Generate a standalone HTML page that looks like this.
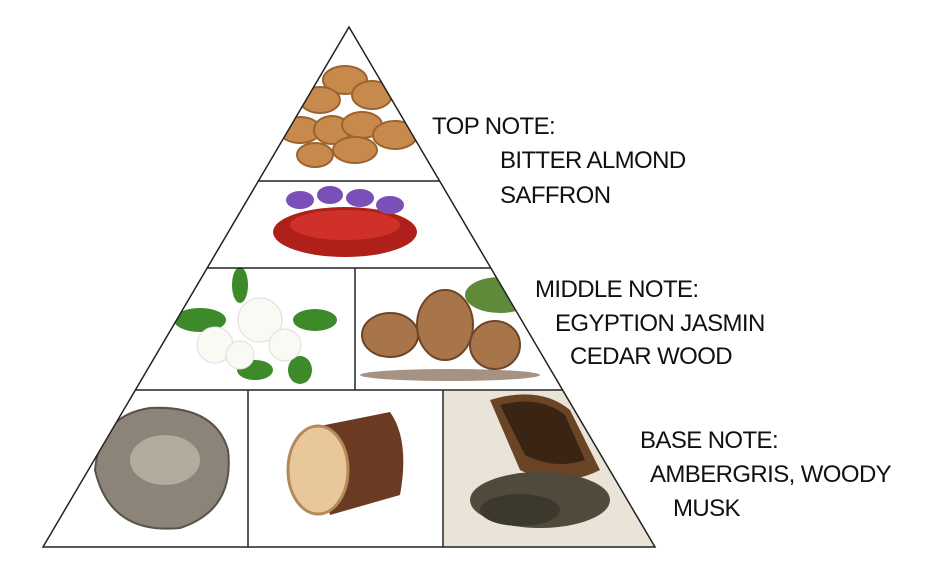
<!DOCTYPE html>
<html><head><meta charset="utf-8"><style>
body{margin:0;background:#fff;width:933px;height:575px;overflow:hidden;position:relative;font-family:"Liberation Sans",sans-serif}
.t{position:absolute;font-size:24px;color:#111;letter-spacing:-0.6px;white-space:nowrap;line-height:1}
</style></head><body>
<svg width="933" height="575" style="position:absolute;left:0;top:0">
<defs><clipPath id="c"><polygon points="349,27 43,547 655,547"/></clipPath></defs>
<g clip-path="url(#c)">
<!-- bottom right background -->
<rect x="444" y="391" width="220" height="156" fill="#e9e3d8"/>
<path d="M490 400 Q540 385 570 410 L600 470 Q560 490 520 470 Z" fill="#6b4426"/>
<path d="M500 405 Q540 395 565 415 L585 460 Q555 470 525 455 Z" fill="#3a2414"/>
<ellipse cx="540" cy="500" rx="70" ry="28" fill="#4f4a3c"/>
<ellipse cx="520" cy="510" rx="40" ry="16" fill="#3c382c"/>
<!-- almonds -->
<g fill="#c88a4c" stroke="#9a6330" stroke-width="2">
<ellipse cx="345" cy="80" rx="22" ry="14"/><ellipse cx="320" cy="100" rx="20" ry="13"/><ellipse cx="372" cy="95" rx="20" ry="14"/>
<ellipse cx="300" cy="130" rx="21" ry="13"/><ellipse cx="332" cy="130" rx="18" ry="14"/><ellipse cx="362" cy="125" rx="20" ry="13"/>
<ellipse cx="395" cy="135" rx="22" ry="14"/><ellipse cx="355" cy="150" rx="22" ry="13"/><ellipse cx="315" cy="155" rx="18" ry="12"/></g>
<!-- saffron -->
<ellipse cx="345" cy="232" rx="72" ry="25" fill="#b0201a"/>
<ellipse cx="345" cy="225" rx="55" ry="15" fill="#d0302a"/>
<g fill="#7a4fb8"><ellipse cx="300" cy="200" rx="14" ry="9"/><ellipse cx="330" cy="195" rx="13" ry="9"/><ellipse cx="360" cy="198" rx="14" ry="9"/><ellipse cx="390" cy="205" rx="14" ry="9"/></g>
<!-- jasmine -->
<g fill="#3d8a2a"><ellipse cx="200" cy="320" rx="26" ry="12"/><ellipse cx="315" cy="320" rx="22" ry="11"/><ellipse cx="240" cy="285" rx="8" ry="18"/><ellipse cx="255" cy="370" rx="18" ry="10"/><ellipse cx="300" cy="370" rx="12" ry="14"/></g>
<g fill="#fafaf5" stroke="#ddd"><circle cx="260" cy="320" r="22"/><circle cx="215" cy="345" r="18"/><circle cx="285" cy="345" r="16"/><circle cx="240" cy="355" r="14"/></g>
<!-- pine cones -->
<ellipse cx="500" cy="295" rx="35" ry="18" fill="#5f8a3a"/>
<g fill="#a8754a" stroke="#6e4526" stroke-width="2"><ellipse cx="390" cy="335" rx="28" ry="22"/><ellipse cx="445" cy="325" rx="28" ry="35"/><ellipse cx="495" cy="345" rx="25" ry="24"/></g>
<ellipse cx="450" cy="375" rx="90" ry="6" fill="#6b4a30" opacity=".6"/>
<!-- stone -->
<path d="M95 470 Q100 415 150 408 Q215 405 228 450 Q235 510 180 528 Q110 535 95 470Z" fill="#8c8478" stroke="#5a5348" stroke-width="2"/>
<ellipse cx="165" cy="460" rx="35" ry="25" fill="#b3ab9e"/>
<!-- wood -->
<path d="M310 428 L390 412 Q410 440 400 495 L330 515 Z" fill="#6b3a22"/>
<ellipse cx="318" cy="470" rx="30" ry="44" fill="#e8c89a" stroke="#b58a5a" stroke-width="3"/>
</g>
<g stroke="#222" stroke-width="1.5" fill="none">
<polygon points="349,27 43,547 655,547"/>
<line x1="258" y1="181" x2="440" y2="181"/>
<line x1="207" y1="268" x2="491" y2="268"/>
<line x1="135" y1="390" x2="563" y2="390"/>
<line x1="355" y1="268" x2="355" y2="390"/>
<line x1="248" y1="390" x2="248" y2="547"/>
<line x1="443" y1="390" x2="443" y2="547"/>
</g>
</svg>
<div class="t" style="left:432px;top:115px">TOP NOTE:</div>
<div class="t" style="left:500px;top:149px">BITTER ALMOND</div>
<div class="t" style="left:500px;top:184px">SAFFRON</div>
<div class="t" style="left:535px;top:278px">MIDDLE NOTE:</div>
<div class="t" style="left:555px;top:312px">EGYPTION JASMIN</div>
<div class="t" style="left:570px;top:345px">CEDAR WOOD</div>
<div class="t" style="left:640px;top:429px">BASE NOTE:</div>
<div class="t" style="left:650px;top:463px">AMBERGRIS, WOODY</div>
<div class="t" style="left:673px;top:497px">MUSK</div>
</body></html>
